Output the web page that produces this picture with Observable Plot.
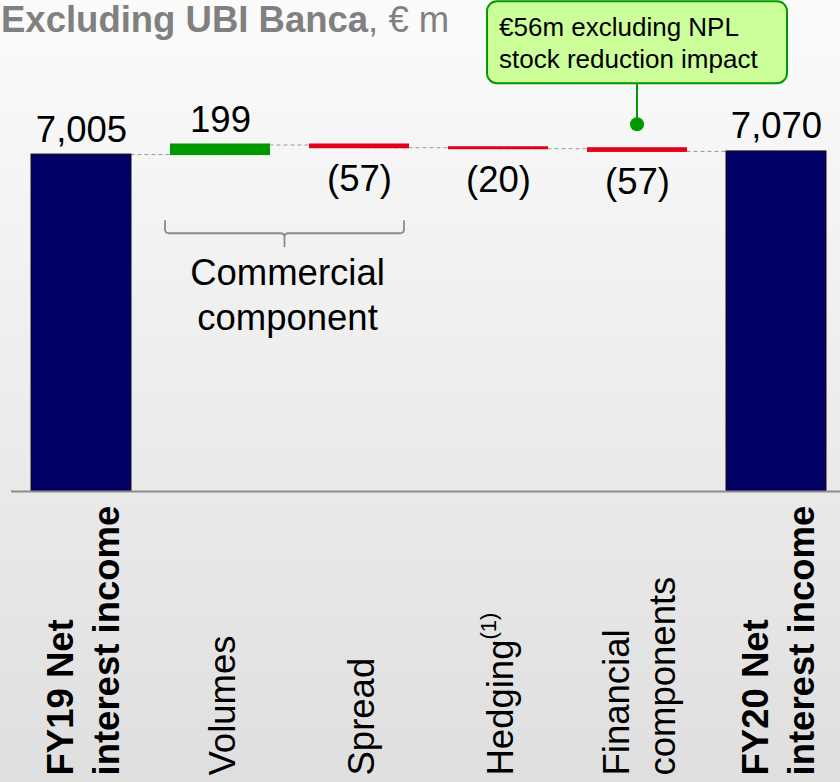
<!DOCTYPE html>
<html>
<head>
<meta charset="utf-8">
<script src="https://cdn.jsdelivr.net/npm/d3@7"></script>
<script src="https://cdn.jsdelivr.net/npm/@observablehq/plot@0.6"></script>
<style>
  html, body { margin: 0; padding: 0; }
  body {
    width: 840px; height: 782px; position: relative; overflow: hidden;
    background: linear-gradient(#fbfbfb, #dfdfdf);
    font-family: "Liberation Sans", Arial, sans-serif;
  }
  #title {
    position: absolute; left: 1px; top: 2px; font-size: 36.5px; line-height: 36.5px;
    color: #808080; white-space: nowrap;
  }
  #title b { font-weight: bold; }
  #chart { position: absolute; left: 0; top: 0; }
</style>
</head>
<body>
<div id="title"></div>
<div id="chart"></div>
<script>
// ---- data ----
const titleBold = "Excluding UBI Banca";
const titleRest = ", € m";
const categories = ["FY19 Net\ninterest income", "Volumes", "Spread", "Hedging", "Financial\ncomponents", "FY20 Net\ninterest income"];
const superscripts = ["", "", "", "(1)", "", ""];
const kinds = ["total", "delta", "delta", "delta", "delta", "total"];
const values = [7005, 199, -57, -20, -57, 7070];
const valueLabels = ["7,005", "199", "(57)", "(20)", "(57)", "7,070"];
const calloutLines = ["€56m excluding NPL", "stock reduction impact"];
const calloutCategory = "Financial\ncomponents";
const bracketFrom = "Volumes";
const bracketTo = "Spread";
const bracketLabel = ["Commercial", "component"];

// ---- colors ----
const navy = "#000066", green = "#009900", red = "#e2001a";

// ---- build waterfall rows ----
let running = 0;
const rows = categories.map((name, i) => {
  let start, end;
  if (kinds[i] === "total") { start = 0; end = values[i]; running = values[i]; }
  else { start = running; end = running + values[i]; running = end; }
  return { name, kind: kinds[i], value: values[i], start, end, lo: Math.min(start, end), hi: Math.max(start, end), label: valueLabels[i] };
});
const totals = rows.filter(d => d.kind === "total");
const deltas = rows.filter(d => d.kind === "delta");
const connectors = rows.slice(0, -1).map((d, i) => ({ from: d.name, to: rows[i + 1].name, level: d.end }));
const above = rows.filter(d => d.value >= 0);
const below = rows.filter(d => d.value < 0);

document.getElementById("title").innerHTML = `<b>${titleBold}</b>${titleRest}`;

const FONT = 36.5;
const plot = Plot.plot({
  width: 840,
  height: 782,
  marginTop: 10,
  marginBottom: 291,
  marginLeft: 11,
  marginRight: 0,
  style: { background: "transparent", fontFamily: "'Liberation Sans', Arial, sans-serif", overflow: "visible" },
  x: { domain: categories, paddingInner: 0.2816, paddingOuter: 0.1185, align: 0.576, axis: null },
  y: { domain: [0, 10000], axis: null },
  marks: [
    Plot.link(connectors, { x1: "from", x2: "to", y1: "level", y2: "level", stroke: "#9a9a9a", strokeWidth: 1, strokeDasharray: "4,3" }),
    Plot.barY(totals, { x: "name", y1: "lo", y2: "hi", fill: navy, stroke: "#111", strokeWidth: 1 }),
    Plot.barY(deltas, { x: "name", y1: "lo", y2: "hi", fill: d => d.value >= 0 ? green : red, insetTop: -1, insetBottom: -1 }),
    Plot.ruleY([0], { stroke: "#8c8c8c", strokeWidth: 2 }),
    Plot.text(above, { x: "name", y: "hi", text: "label", lineAnchor: "bottom", dy: -13, fontSize: FONT, fill: "black" }),
    Plot.text(below, { x: "name", y: "lo", text: "label", lineAnchor: "top", dy: 17, fontSize: FONT, fill: "black" }),
    Plot.text(totals, { x: "name", y: () => 0, text: "name", rotate: -90, textAnchor: "start", lineAnchor: "middle", lineHeight: 1.25, dy: 284, fontSize: FONT, fontWeight: "bold", fill: "black" }),
    Plot.text(deltas, { x: "name", y: () => 0, text: "name", rotate: -90, textAnchor: "start", lineAnchor: "middle", lineHeight: 1.25, dy: 284, fontSize: FONT, fill: "black" })
  ]
});
document.getElementById("chart").appendChild(plot);

// ---- annotations via the plot's own scales ----
const xs = plot.scale("x"), ys = plot.scale("y");
const bw = xs.bandwidth;
const svg = d3.select(plot);
const ns = "http://www.w3.org/2000/svg";

// superscripts on category labels
categories.forEach((c, i) => {
  if (!superscripts[i]) return;
  svg.selectAll("text").filter(function () { return this.textContent === c; }).each(function () {
    const t = document.createElementNS(ns, "tspan");
    t.setAttribute("dy", "-17");
    t.setAttribute("font-size", "22");
    t.textContent = superscripts[i];
    this.appendChild(t);
  });
});

// bracket for commercial component
const rowTo = rows.find(d => d.name === bracketTo);
const bL = xs.apply(bracketFrom) - 5;
const bR = xs.apply(bracketTo) + bw - 5;
const bC = (bL + bR) / 2;
const bTop = ys.apply(rowTo.lo) + 73;
const bMid = bTop + 13, bTip = bMid + 14, rr = 4;
const bg = svg.append("g");
bg.append("path")
  .attr("d", `M${bL},${bTop}V${bMid - rr}Q${bL},${bMid} ${bL + rr},${bMid}H${bC - rr}Q${bC},${bMid} ${bC},${bMid + rr}V${bTip}M${bC},${bMid + rr}Q${bC},${bMid} ${bC + rr},${bMid}H${bR - rr}Q${bR},${bMid} ${bR},${bMid - rr}V${bTop}`)
  .attr("fill", "none").attr("stroke", "#8c8c8c").attr("stroke-width", 1.8);
bracketLabel.forEach((s, i) => {
  bg.append("text").attr("x", bC + 3).attr("y", bMid + 52 + i * 45)
    .attr("text-anchor", "middle").attr("font-size", FONT).attr("fill", "black").text(s);
});

// callout for financial components
const fin = rows.find(d => d.name === calloutCategory);
const fc = xs.apply(calloutCategory) + bw / 2;
const dotY = ys.apply(fin.hi) - 1 - 23;
const boxBottom = dotY - 41, boxH = 82, boxW = 300;
const boxTop = boxBottom - boxH;
const cg = svg.append("g");
cg.append("line").attr("x1", fc).attr("x2", fc).attr("y1", dotY).attr("y2", boxBottom)
  .attr("stroke", green).attr("stroke-width", 2);
cg.append("circle").attr("cx", fc).attr("cy", dotY).attr("r", 7).attr("fill", green);
cg.append("rect").attr("x", fc - boxW / 2).attr("y", boxTop).attr("width", boxW).attr("height", boxH)
  .attr("rx", 10).attr("fill", "#ccff99").attr("stroke", green).attr("stroke-width", 2);
calloutLines.forEach((s, i) => {
  cg.append("text").attr("x", fc - boxW / 2 + 12).attr("y", boxTop + 35 + i * 32)
    .attr("text-anchor", "start").attr("font-size", 26).attr("fill", "black").text(s);
});
</script>
</body>
</html>
